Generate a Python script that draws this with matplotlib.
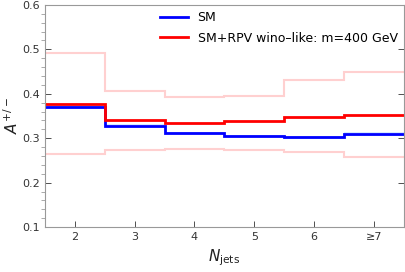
import numpy as np
import matplotlib.pyplot as plt

edges = [1.5, 2.5, 3.5, 4.5, 5.5, 6.5, 7.5]
tick_pos = [2, 3, 4, 5, 6, 7]
tick_labels = ['2', '3', '4', '5', '6', '≥7']

sm = [0.371, 0.328, 0.312, 0.305, 0.302, 0.309]
sm_err = [0.003, 0.003, 0.003, 0.003, 0.004, 0.004]
rpv = [0.376, 0.340, 0.334, 0.338, 0.347, 0.352]
rpv_up = [0.491, 0.407, 0.392, 0.394, 0.431, 0.448]
rpv_lo = [0.264, 0.273, 0.275, 0.274, 0.268, 0.258]

fig = plt.figure(figsize=(4.05, 2.72), dpi=100)
ax = fig.add_axes([0.111, 0.165, 0.886, 0.817])

sm = np.array(sm)
sm_err = np.array(sm_err)
ax.stairs(sm + sm_err, edges, baseline=sm - sm_err, fill=True, color='#cfe6ff', alpha=0.8, lw=0)
ax.stairs(rpv_up, edges, baseline=None, color='#ffd0d0', lw=1.5)
ax.stairs(rpv_lo, edges, baseline=None, color='#ffd0d0', lw=1.5)
ax.stairs(sm, edges, baseline=None, color='#0000ff', lw=2, label='SM')
ax.stairs(rpv, edges, baseline=None, color='#ff0000', lw=2, label='SM+RPV wino–like: m=400 GeV')

ax.set_xlim(1.5, 7.5)
ax.set_ylim(0.1, 0.6)
ax.set_xticks(tick_pos)
ax.set_xticklabels(tick_labels)
ax.set_yticks([0.1, 0.2, 0.3, 0.4, 0.5, 0.6])
ax.set_yticks(np.arange(0.1, 0.6, 0.02), minor=True)
ax.tick_params(direction='in', colors='#333333', labelsize=8, length=4, width=0.6)
ax.tick_params(axis='y', which='both', right=True)
ax.tick_params(axis='y', which='minor', length=3, width=0.5, color='#888888')
ax.tick_params(axis='x', which='both', top=False)
for s in ax.spines.values():
    s.set_color('#999999')
    s.set_linewidth(0.8)

ax.set_xlabel(r'$N_{\mathrm{jets}}$', fontsize=11, color='#222222')
ax.set_ylabel(r'$A^{+/-}$', fontsize=11, color='#222222', labelpad=1)
ax.legend(loc='upper right', frameon=False, fontsize=9, handlelength=2.2,
          borderaxespad=0.1, labelspacing=0.6)

fig.savefig('out.png', dpi=100)
